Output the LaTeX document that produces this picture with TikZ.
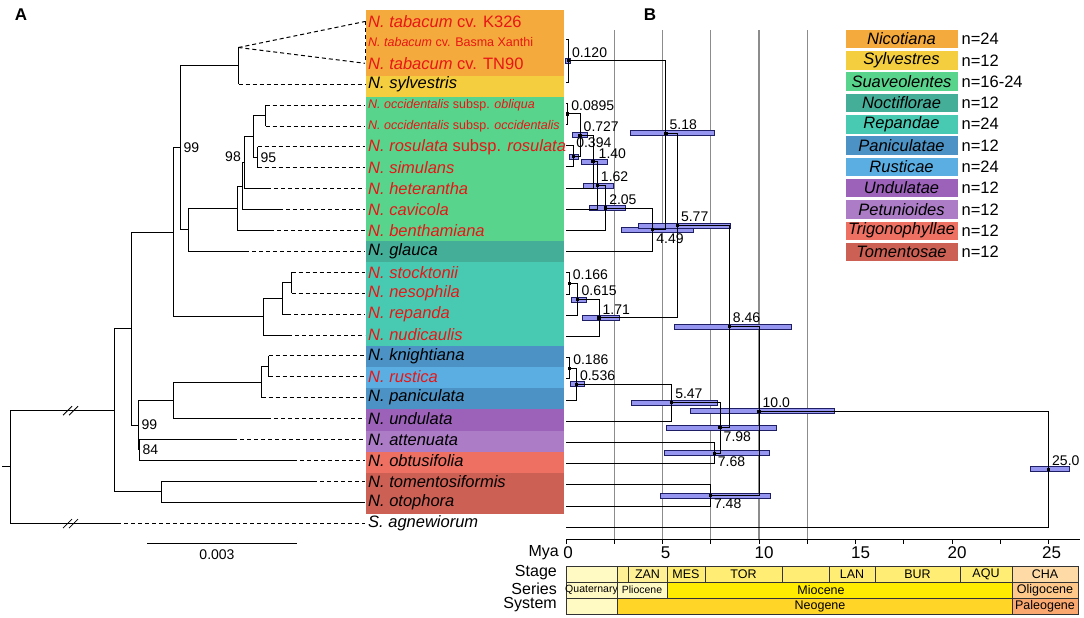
\documentclass[tikz,border=0pt]{standalone}
\usepackage{fontspec}
\setmainfont{Liberation Sans}
\usepackage{xcolor}
\usepackage{tikz}
\newcommand{\fsz}[1]{\fontsize{#1}{#1}\selectfont}
\definecolor{sred}{RGB}{232,22,22}
\definecolor{cNic}{RGB}{244,170,60}
\definecolor{cSyl}{RGB}{244,206,62}
\definecolor{cSua}{RGB}{88,212,140}
\definecolor{cNoc}{RGB}{68,174,152}
\definecolor{cRep}{RGB}{72,202,178}
\definecolor{cPan}{RGB}{76,146,196}
\definecolor{cRus}{RGB}{90,174,226}
\definecolor{cUnd}{RGB}{156,98,186}
\definecolor{cPet}{RGB}{172,124,198}
\definecolor{cTri}{RGB}{238,112,98}
\definecolor{cTom}{RGB}{204,96,84}
\definecolor{hpdfill}{RGB}{150,150,240}
\definecolor{hpdline}{RGB}{30,30,100}
\definecolor{gridgray}{RGB}{140,140,140}
\definecolor{tsPale}{RGB}{255,249,196}
\definecolor{tsPlio}{RGB}{255,240,150}
\definecolor{tsMioS}{RGB}{255,238,115}
\definecolor{tsMio}{RGB}{255,236,0}
\definecolor{tsNeo}{RGB}{255,214,40}
\definecolor{tsCha}{RGB}{253,218,166}
\definecolor{tsOli}{RGB}{253,200,138}
\definecolor{tsPal}{RGB}{250,168,112}

\begin{document}
\begin{tikzpicture}[x=1pt,y=-1pt]
    \def\by{21.5}
    \def\dy{20.9}
    \def\lx{365}
    \def\bx{566}
    \def\my{19.3}
    \def\bby{18.5}
    \def\bdy{21.2}
    \def\ly{39}
    \def\ldy{21.3}

    \tikzstyle{sp}=[anchor=west,inner xsep=3pt,inner ysep=0pt,font=\fsz{16.5}\itshape]
    \tikzstyle{spr}=[sp,text=sred]
    \tikzstyle{sps}=[spr,font=\fsz{12.5}\itshape]
    \tikzstyle{boot}=[inner sep=0pt,font=\fsz{14}]
    \tikzstyle{age}=[anchor=south west,inner sep=3.5pt,font=\fsz{14}]
    \tikzstyle{ageb}=[age,anchor=north west]
    \tikzstyle{hpd}=[fill=hpdfill,draw=hpdline,line width=0.6pt]
    \tikzstyle{vline}=[draw=gridgray,line width=1.4pt]
    \tikzstyle{br}=[draw=black,line width=1pt]
    \tikzstyle{dsh}=[draw=black,line width=1pt,dash pattern=on 4pt off 3pt]
    \tikzstyle{mkf}=[fill=black]
    \tikzstyle{leg}=[minimum width=113pt,minimum height=19.5pt,inner sep=0pt,draw=white,line width=0.8pt,font=\fsz{16.5}\itshape]
    \tikzstyle{cnt}=[anchor=west,inner xsep=3pt,font=\fsz{16.5}]
    \tikzstyle{mlab}=[inner sep=0pt,font=\fsz{17}]
    \tikzstyle{rlab}=[inner sep=0pt,anchor=east,font=\fsz{16}]
    \tikzstyle{gts}=[draw=black!80,line width=0.7pt]
    \tikzstyle{gtx}=[inner sep=0pt,font=\fsz{12.5}]
    \tikzstyle{gtxs}=[inner sep=0pt,font=\fsz{10.5}]

    \useasboundingbox (0,0) rectangle (1084,618);

    \node[font=\fsz{17}\bfseries] (pA) at (21,15) {A};
    \node[font=\fsz{17}\bfseries] (pB) at (650,15) {B};

    % section bands
    \fill[cNic] (366,10) rectangle (564,76);
    \fill[cSyl] (366,76) rectangle (564,97);
    \fill[cSua] (366,97) rectangle (564,241);
    \fill[cNoc] (366,241) rectangle (564,262);
    \fill[cRep] (366,262) rectangle (564,346);
    \fill[cPan] (366,346) rectangle (564,367);
    \fill[cRus] (366,367) rectangle (564,388);
    \fill[cPan] (366,388) rectangle (564,409);
    \fill[cUnd] (366,409) rectangle (564,431);
    \fill[cPet] (366,431) rectangle (564,452);
    \fill[cTri] (366,452) rectangle (564,473);
    \fill[cTom] (366,473) rectangle (564,514);

    % taxa
    \node[spr] (ntabK) at (\lx,\by+0*\dy) {N. tabacum \textup{cv. K326}};
    \node[sps] (ntabB) at (\lx,\by+1*\dy) {N. tabacum \textup{cv. Basma Xanthi}};
    \node[spr] (ntabT) at (\lx,\by+2*\dy) {N. tabacum \textup{cv. TN90}};
    \node[sp]  (nsyl)  at (\lx,\by+3*\dy) {N. sylvestris};
    \node[sps] (nobl)  at (\lx,\by+4*\dy) {N. occidentalis \textup{subsp.} obliqua};
    \node[sps] (nocc)  at (\lx,\by+5*\dy) {N. occidentalis \textup{subsp.} occidentalis};
    \node[spr] (nros)  at (\lx,\by+6*\dy) {N. rosulata \textup{subsp.} rosulata};
    \node[spr] (nsim)  at (\lx,\by+7*\dy) {N. simulans};
    \node[spr] (nhet)  at (\lx,\by+8*\dy) {N. heterantha};
    \node[spr] (ncav)  at (\lx,\by+9*\dy) {N. cavicola};
    \node[spr] (nben)  at (\lx,\by+10*\dy) {N. benthamiana};
    \node[sp]  (ngla)  at (\lx,\by+11*\dy) {N. glauca};
    \node[spr] (nsto)  at (\lx,\by+12*\dy) {N. stocktonii};
    \node[spr] (nnes)  at (\lx,\by+13*\dy) {N. nesophila};
    \node[spr] (nrep)  at (\lx,\by+14*\dy) {N. repanda};
    \node[spr] (nnud)  at (\lx,\by+15*\dy) {N. nudicaulis};
    \node[sp]  (nkni)  at (\lx,\by+16*\dy) {N. knightiana};
    \node[spr] (nrus)  at (\lx,\by+17*\dy) {N. rustica};
    \node[sp]  (npan)  at (\lx,\by+18*\dy) {N. paniculata};
    \node[sp]  (nund)  at (\lx,\by+19*\dy) {N. undulata};
    \node[sp]  (natt)  at (\lx,\by+20*\dy) {N. attenuata};
    \node[sp]  (nobt)  at (\lx,\by+21*\dy) {N. obtusifolia};
    \node[sp]  (ntom)  at (\lx,\by+22*\dy) {N. tomentosiformis};
    \node[sp]  (noto)  at (\lx,\by+23*\dy) {N. otophora};
    \node[sp]  (sagn)  at (\lx,\by+24*\dy) {S. agnewiorum};

    % ---- panel A: ML tree
    \coordinate (aTab)  at (238.5,47.5);
    \coordinate (aNS)   at (238.5,\by+2.12*\dy);
    \coordinate (aOO)   at (265.5,\by+4.5*\dy);
    \coordinate (aRS)   at (257.5,\by+6.5*\dy);
    \coordinate (aOR)   at (253.5,\by+5.5*\dy);
    \coordinate (aHet)  at (244.5,\by+6.75*\dy);
    \coordinate (aCav)  at (242.5,\by+7.875*\dy);
    \coordinate (aBen)  at (237.5,\by+8.94*\dy);
    \coordinate (aGla)  at (188.5,\by+9.97*\dy);
    \coordinate (a99)   at (180.5,\by+6.05*\dy);
    \coordinate (aSN)   at (291.5,\by+12.5*\dy);
    \coordinate (aRe2)  at (282.5,\by+13.25*\dy);
    \coordinate (aRep)  at (263.5,\by+14.125*\dy);
    \coordinate (aUp)   at (173.5,\by+10.09*\dy);
    \coordinate (aKR)   at (268.5,\by+16.5*\dy);
    \coordinate (aPan)  at (261.5,\by+17.25*\dy);
    \coordinate (aUnd)  at (173.5,\by+18.125*\dy);
    \coordinate (aAO)   at (139.5,\by+20.5*\dy);
    \coordinate (aLow)  at (138.5,\by+19.31*\dy);
    \coordinate (aMain) at (131.5,\by+14.7*\dy);
    \coordinate (aTom)  at (161.5,\by+22.5*\dy);
    \coordinate (aIng)  at (114.5,\by+18.6*\dy);
    \coordinate (aRoot) at (10.5,\by+21.3*\dy);
    \coordinate (aStem) at (2,\by+21.3*\dy);

    \coordinate (s3)  at (238.5,\by+3*\dy);
    \coordinate (s4)  at (265.5,\by+4*\dy);
    \coordinate (s5)  at (265.5,\by+5*\dy);
    \coordinate (s6)  at (257.5,\by+6*\dy);
    \coordinate (s7)  at (257.5,\by+7*\dy);
    \coordinate (s8)  at (267,\by+8*\dy);
    \coordinate (s9)  at (279,\by+9*\dy);
    \coordinate (s10) at (270,\by+10*\dy);
    \coordinate (s11) at (245,\by+11*\dy);
    \coordinate (s12) at (291.5,\by+12*\dy);
    \coordinate (s13) at (291.5,\by+13*\dy);
    \coordinate (s14) at (287,\by+14*\dy);
    \coordinate (s15) at (288,\by+15*\dy);
    \coordinate (s16) at (268.5,\by+16*\dy);
    \coordinate (s17) at (268.5,\by+17*\dy);
    \coordinate (s18) at (261.5,\by+18*\dy);
    \coordinate (s19) at (267,\by+19*\dy);
    \coordinate (s20) at (233,\by+20*\dy);
    \coordinate (s21) at (293,\by+21*\dy);
    \coordinate (s22) at (313,\by+22*\dy);
    \coordinate (s24) at (117,\by+24*\dy);

    \draw [br] (aNS) -- (aTab);
    \draw [br] (aNS) |- (s3);
    \draw [dsh] (aTab) -- (ntabK.west);
    \draw [dsh] (aTab) -- (ntabT.west);
    \draw [dsh] (ntabK.west) -- (ntabT.west);
    \draw [dsh] (s3) -- (nsyl.west);

    \draw [br] (a99) |- (aNS);
    \draw [br] (a99) |- (aGla);
    \draw [br] (aGla) |- (aBen);
    \draw [br] (aGla) |- (s11);
    \draw [br] (aBen) |- (aCav);
    \draw [br] (aBen) |- (s10);
    \draw [br] (aCav) |- (aHet);
    \draw [br] (aCav) |- (s9);
    \draw [br] (aHet) |- (aOR);
    \draw [br] (aHet) |- (s8);
    \draw [br] (aOR) |- (aOO);
    \draw [br] (aOR) |- (aRS);
    \draw [br] (aOO) |- (s4);
    \draw [br] (aOO) |- (s5);
    \draw [br] (aRS) |- (s6);
    \draw [br] (aRS) |- (s7);
    \draw [dsh] (s4) -- (nobl.west);
    \draw [dsh] (s5) -- (nocc.west);
    \draw [dsh] (s6) -- (nros.west);
    \draw [dsh] (s7) -- (nsim.west);
    \draw [dsh] (s8) -- (nhet.west);
    \draw [dsh] (s9) -- (ncav.west);
    \draw [dsh] (s10) -- (nben.west);
    \draw [dsh] (s11) -- (ngla.west);

    \draw [br] (aUp) |- (a99);
    \draw [br] (aUp) |- (aRep);
    \draw [br] (aRep) |- (aRe2);
    \draw [br] (aRep) |- (s15);
    \draw [br] (aRe2) |- (aSN);
    \draw [br] (aRe2) |- (s14);
    \draw [br] (aSN) |- (s12);
    \draw [br] (aSN) |- (s13);
    \draw [dsh] (s12) -- (nsto.west);
    \draw [dsh] (s13) -- (nnes.west);
    \draw [dsh] (s14) -- (nrep.west);
    \draw [dsh] (s15) -- (nnud.west);

    \draw [br] (aMain) |- (aUp);
    \draw [br] (aMain) |- (aLow);
    \draw [br] (aLow) |- (aUnd);
    \draw [br] (aLow) |- (aAO);
    \draw [br] (aUnd) |- (aPan);
    \draw [br] (aUnd) |- (s19);
    \draw [br] (aPan) |- (aKR);
    \draw [br] (aPan) |- (s18);
    \draw [br] (aKR) |- (s16);
    \draw [br] (aKR) |- (s17);
    \draw [br] (aAO) |- (s20);
    \draw [br] (aAO) |- (s21);
    \draw [dsh] (s16) -- (nkni.west);
    \draw [dsh] (s17) -- (nrus.west);
    \draw [dsh] (s18) -- (npan.west);
    \draw [dsh] (s19) -- (nund.west);
    \draw [dsh] (s20) -- (natt.west);
    \draw [dsh] (s21) -- (nobt.west);

    \draw [br] (aIng) |- (aMain);
    \draw [br] (aIng) |- (aTom);
    \draw [br] (aTom) |- (s22);
    \draw [br] (aTom) |- (noto.west);
    \draw [dsh] (s22) -- (ntom.west);
    \draw [br] (aRoot) |- (aIng);
    \draw [br] (aRoot) |- (s24);
    \draw [dsh] (s24) -- (sagn.west);
    \draw [br] (aStem) -- (aRoot);

    % breaks on the long branches
    \coordinate (brk1) at (70,\by+18.6*\dy);
    \coordinate (brk2) at (70,\by+24*\dy);
    \draw [br,line width=0.8pt] (brk1) ++(-7,5) -- ++(9,-9);
    \draw [br,line width=0.8pt] (brk1) ++(-1,5) -- ++(9,-9);
    \draw [br,line width=0.8pt] (brk2) ++(-7,5) -- ++(9,-9);
    \draw [br,line width=0.8pt] (brk2) ++(-1,5) -- ++(9,-9);

    \node[boot,anchor=west] (bs99a) at ([xshift=3pt]a99) {99};
    \node[boot,anchor=east] (bs98)  at (241,157) {98};
    \node[boot,anchor=west] (bs95)  at ([xshift=3pt]aRS) {95};
    \node[boot,anchor=west] (bs99b) at ([xshift=3pt]aLow) {99};
    \node[boot,anchor=west] (bs84)  at ([xshift=3pt]aAO) {84};

    \coordinate (sbl) at (147,543.5);
    \coordinate (sbr) at (297,543.5);
    \draw [br] (sbl) -- (sbr);
    \node[boot] (sbt) at (217,555) {0.003};

    % ---- panel B: dated tree
    \draw [vline] (\bx+2.5*\my,30) -- (\bx+2.5*\my,539);
    \draw [vline] (\bx+5*\my,30) -- (\bx+5*\my,539);
    \draw [vline] (\bx+7.5*\my,30) -- (\bx+7.5*\my,539);
    \draw [vline] (\bx+10*\my,30) -- (\bx+10*\my,539);
    \draw [vline] (\bx+12.5*\my,30) -- (\bx+12.5*\my,539);

    \coordinate (e1)  at (\bx,\bby+1*\bdy);
    \coordinate (e3)  at (\bx,\bby+3*\bdy);
    \coordinate (e4)  at (\bx,\bby+4*\bdy);
    \coordinate (e5)  at (\bx,\bby+5*\bdy);
    \coordinate (e6)  at (\bx,\bby+6*\bdy);
    \coordinate (e7)  at (\bx,\bby+7*\bdy);
    \coordinate (e8)  at (\bx,\bby+8*\bdy);
    \coordinate (e9)  at (\bx,\bby+9*\bdy);
    \coordinate (e10) at (\bx,\bby+10*\bdy);
    \coordinate (e11) at (\bx,\bby+11*\bdy);
    \coordinate (e12) at (\bx,\bby+12*\bdy);
    \coordinate (e13) at (\bx,\bby+13*\bdy);
    \coordinate (e14) at (\bx,\bby+14*\bdy);
    \coordinate (e15) at (\bx,\bby+15*\bdy);
    \coordinate (e16) at (\bx,\bby+16*\bdy);
    \coordinate (e17) at (\bx,\bby+17*\bdy);
    \coordinate (e18) at (\bx,\bby+18*\bdy);
    \coordinate (e19) at (\bx,\bby+19*\bdy);
    \coordinate (e20) at (\bx,\bby+20*\bdy);
    \coordinate (e21) at (\bx,\bby+21*\bdy);
    \coordinate (e22) at (\bx,\bby+22*\bdy);
    \coordinate (e23) at (\bx,\bby+23*\bdy);
    \coordinate (e24) at (\bx,\bby+24*\bdy);

    \coordinate (b120)  at (\bx+0.120*\my,\bby+2*\bdy);
    \coordinate (b0895) at (\bx+0.0895*\my,\bby+4.5*\bdy);
    \coordinate (b394)  at (\bx+0.394*\my,\bby+6.5*\bdy);
    \coordinate (b727)  at (\bx+0.727*\my,\bby+5.5*\bdy);
    \coordinate (b140)  at (\bx+1.40*\my,\bby+6.75*\bdy);
    \coordinate (b162)  at (\bx+1.62*\my,\bby+7.875*\bdy);
    \coordinate (b205)  at (\bx+2.05*\my,\bby+8.94*\bdy);
    \coordinate (b449)  at (\bx+4.49*\my,\bby+9.97*\bdy);
    \coordinate (b518)  at (\bx+5.18*\my,\bby+5.41*\bdy);
    \coordinate (b577)  at (\bx+5.77*\my,\bby+9.77*\bdy);
    \coordinate (b166)  at (\bx+0.166*\my,\bby+12.5*\bdy);
    \coordinate (b615)  at (\bx+0.615*\my,\bby+13.25*\bdy);
    \coordinate (b171)  at (\bx+1.71*\my,\bby+14.125*\bdy);
    \coordinate (b186)  at (\bx+0.186*\my,\bby+16.5*\bdy);
    \coordinate (b536)  at (\bx+0.536*\my,\bby+17.25*\bdy);
    \coordinate (b547)  at (\bx+5.47*\my,\bby+18.125*\bdy);
    \coordinate (b768)  at (\bx+7.68*\my,\bby+20.5*\bdy);
    \coordinate (b798)  at (\bx+7.98*\my,\bby+19.31*\bdy);
    \coordinate (b846)  at (\bx+8.46*\my,\bby+14.54*\bdy);
    \coordinate (b748)  at (\bx+7.48*\my,\bby+22.5*\bdy);
    \coordinate (b100)  at (\bx+10.0*\my,\bby+18.52*\bdy);
    \coordinate (b250)  at (\bx+25.0*\my,\bby+21.26*\bdy);

    % 95% HPD bars
    \draw [hpd] (b120) ++(-3,-2.5) rectangle ++(5,5);
    \draw [hpd] (b727) ++(-8,-2.5) rectangle ++(15,5);
    \draw [hpd] (b394) ++(-4.6,-2.5) rectangle ++(9,5);
    \draw [hpd] (b140) ++(-12,-2.5) rectangle ++(26,5);
    \draw [hpd] (b162) ++(-14.3,-2.5) rectangle ++(30,5);
    \draw [hpd] (b205) ++(-16.6,-2.5) rectangle ++(36,5);
    \draw [hpd] (b449) ++(-31.7,-2.5) rectangle ++(72,5);
    \draw [hpd] (b518) ++(-36,-2.5) rectangle ++(84,5);
    \draw [hpd] (b577) ++(-39.4,-2.5) rectangle ++(92,5);
    \draw [hpd] (b615) ++(-6.9,-2.5) rectangle ++(15,5);
    \draw [hpd] (b171) ++(-17,-2.5) rectangle ++(37,5);
    \draw [hpd] (b846) ++(-55.3,-2.5) rectangle ++(117,5);
    \draw [hpd] (b536) ++(-6.3,-2.5) rectangle ++(14,5);
    \draw [hpd] (b547) ++(-40.6,-2.5) rectangle ++(86,5);
    \draw [hpd] (b100) ++(-69,-2.5) rectangle ++(144,5);
    \draw [hpd] (b798) ++(-54,-2.5) rectangle ++(110,5);
    \draw [hpd] (b768) ++(-50.2,-2.5) rectangle ++(105,5);
    \draw [hpd] (b748) ++(-50.4,-2.5) rectangle ++(110,5);
    \draw [hpd] (b250) ++(-18.5,-2.5) rectangle ++(39,5);

    \draw [br] (b120) |- (e1);
    \draw [br] (b120) |- (e3);
    \draw [br] (b0895) |- (e4);
    \draw [br] (b0895) |- (e5);
    \draw [br] (b394) |- (e6);
    \draw [br] (b394) |- (e7);
    \draw [br] (b727) |- (b0895);
    \draw [br] (b727) |- (b394);
    \draw [br] (b140) |- (b727);
    \draw [br] (b140) |- (e8);
    \draw [br] (b162) |- (b140);
    \draw [br] (b162) |- (e9);
    \draw [br] (b205) |- (b162);
    \draw [br] (b205) |- (e10);
    \draw [br] (b449) |- (b205);
    \draw [br] (b449) |- (e11);
    \draw [br] (b518) |- (b120);
    \draw [br] (b518) |- (b449);
    \draw [br] (b577) |- (b518);
    \draw [br] (b577) |- (b171);
    \draw [br] (b166) |- (e12);
    \draw [br] (b166) |- (e13);
    \draw [br] (b615) |- (b166);
    \draw [br] (b615) |- (e14);
    \draw [br] (b171) |- (b615);
    \draw [br] (b171) |- (e15);
    \draw [br] (b846) |- (b577);
    \draw [br] (b846) |- (b798);
    \draw [br] (b186) |- (e16);
    \draw [br] (b186) |- (e17);
    \draw [br] (b536) |- (b186);
    \draw [br] (b536) |- (e18);
    \draw [br] (b547) |- (b536);
    \draw [br] (b547) |- (e19);
    \draw [br] (b768) |- (e20);
    \draw [br] (b768) |- (e21);
    \draw [br] (b798) |- (b547);
    \draw [br] (b798) |- (b768);
    \draw [br] (b748) |- (e22);
    \draw [br] (b748) |- (e23);
    \draw [br] (b100) |- (b846);
    \draw [br] (b100) |- (b748);
    \draw [br] (b250) |- (b100);
    \draw [br] (b250) |- (e24);

    % node markers
    \fill [mkf] (b120) +(-1.6,-1.6) rectangle +(1.6,1.6);
    \fill [mkf] (b0895) +(-1.6,-1.6) rectangle +(1.6,1.6);
    \fill [mkf] (b394) +(-1.6,-1.6) rectangle +(1.6,1.6);
    \fill [mkf] (b727) +(-1.6,-1.6) rectangle +(1.6,1.6);
    \fill [mkf] (b140) +(-1.6,-1.6) rectangle +(1.6,1.6);
    \fill [mkf] (b162) +(-1.6,-1.6) rectangle +(1.6,1.6);
    \fill [mkf] (b205) +(-1.6,-1.6) rectangle +(1.6,1.6);
    \fill [mkf] (b449) +(-1.6,-1.6) rectangle +(1.6,1.6);
    \fill [mkf] (b518) +(-1.6,-1.6) rectangle +(1.6,1.6);
    \fill [mkf] (b577) +(-1.6,-1.6) rectangle +(1.6,1.6);
    \fill [mkf] (b166) +(-1.6,-1.6) rectangle +(1.6,1.6);
    \fill [mkf] (b615) +(-1.6,-1.6) rectangle +(1.6,1.6);
    \fill [mkf] (b171) +(-1.6,-1.6) rectangle +(1.6,1.6);
    \fill [mkf] (b186) +(-1.6,-1.6) rectangle +(1.6,1.6);
    \fill [mkf] (b536) +(-1.6,-1.6) rectangle +(1.6,1.6);
    \fill [mkf] (b547) +(-1.6,-1.6) rectangle +(1.6,1.6);
    \fill [mkf] (b768) +(-1.6,-1.6) rectangle +(1.6,1.6);
    \fill [mkf] (b798) +(-1.6,-1.6) rectangle +(1.6,1.6);
    \fill [mkf] (b846) +(-1.6,-1.6) rectangle +(1.6,1.6);
    \fill [mkf] (b748) +(-1.6,-1.6) rectangle +(1.6,1.6);
    \fill [mkf] (b100) +(-1.6,-1.6) rectangle +(1.6,1.6);
    \fill [mkf] (b250) +(-1.6,-1.6) rectangle +(1.6,1.6);

    % ages
    \node[age]  (l120)  at (b120) {0.120};
    \node[age]  (l0895) at (b0895) {0.0895};
    \node[age]  (l727)  at (b727) {0.727};
    \node[age]  (l394)  at ([xshift=-1pt,yshift=5pt]b394) {0.394};
    \node[age]  (l140)  at ([xshift=2pt,yshift=-1pt]b140) {1.40};
    \node[age]  (l162)  at (b162) {1.62};
    \node[age]  (l205)  at (b205) {2.05};
    \node[ageb] (l449)  at (b449) {4.49};
    \node[age]  (l518)  at (b518) {5.18};
    \node[age]  (l577)  at (b577) {5.77};
    \node[age]  (l166)  at (b166) {0.166};
    \node[age]  (l615)  at (b615) {0.615};
    \node[age]  (l171)  at (b171) {1.71};
    \node[age]  (l846)  at (b846) {8.46};
    \node[age]  (l186)  at (b186) {0.186};
    \node[age]  (l536)  at (b536) {0.536};
    \node[age]  (l547)  at (b547) {5.47};
    \node[age]  (l100)  at (b100) {10.0};
    \node[ageb] (l798)  at (b798) {7.98};
    \node[ageb] (l768)  at (b768) {7.68};
    \node[ageb] (l748)  at (b748) {7.48};
    \node[age]  (l250)  at (b250) {25.0};

    % time axis
    \draw [br,line width=0.9pt] (\bx,539.5) -- (1080,539.5);
    \draw [br,line width=0.9pt] (\bx,539.5) -- (\bx,544);
    \draw [br,line width=0.9pt] (\bx+2.5*\my,539.5) -- (\bx+2.5*\my,544);
    \draw [br,line width=0.9pt] (\bx+5*\my,539.5) -- (\bx+5*\my,544);
    \draw [br,line width=0.9pt] (\bx+7.5*\my,539.5) -- (\bx+7.5*\my,544);
    \draw [br,line width=0.9pt] (\bx+10*\my,539.5) -- (\bx+10*\my,544);
    \draw [br,line width=0.9pt] (\bx+12.5*\my,539.5) -- (\bx+12.5*\my,544);
    \draw [br,line width=0.9pt] (\bx+15*\my,539.5) -- (\bx+15*\my,544);
    \draw [br,line width=0.9pt] (\bx+17.5*\my,539.5) -- (\bx+17.5*\my,544);
    \draw [br,line width=0.9pt] (\bx+20*\my,539.5) -- (\bx+20*\my,544);
    \draw [br,line width=0.9pt] (\bx+22.5*\my,539.5) -- (\bx+22.5*\my,544);
    \draw [br,line width=0.9pt] (\bx+25*\my,539.5) -- (\bx+25*\my,544);
    \node[mlab] (m0)  at (\bx+2,553) {0};
    \node[mlab] (m5)  at (\bx+5*\my+3,553) {5};
    \node[mlab] (m10) at (\bx+10*\my+5,553) {10};
    \node[mlab] (m15) at (\bx+15*\my+5,553) {15};
    \node[mlab] (m20) at (\bx+20*\my+5,553) {20};
    \node[mlab] (m25) at (\bx+25*\my+3,553) {25};
    \node[rlab] (mya) at (559,553) {Mya};
    \node[rlab] (rStage)  at (557,573) {Stage};
    \node[rlab] (rSeries) at (557,589) {Series};
    \node[rlab] (rSystem) at (557,605) {System};

    % geological time scale
    \draw [gts,fill=tsPale] (566,566) rectangle (617,582);
    \draw [gts,fill=tsPlio] (617,566) rectangle (628,582);
    \draw [gts,fill=tsPlio] (628,566) rectangle (667,582) node[midway,gtx] (sZAN) {ZAN};
    \draw [gts,fill=tsMioS] (667,566) rectangle (705,582) node[midway,gtx] (sMES) {MES};
    \draw [gts,fill=tsMioS] (705,566) rectangle (782,582) node[midway,gtx] (sTOR) {TOR};
    \draw [gts,fill=tsMioS] (782,566) rectangle (829,582);
    \draw [gts,fill=tsMioS] (829,566) rectangle (875,582) node[midway,gtx] (sLAN) {LAN};
    \draw [gts,fill=tsMioS] (875,566) rectangle (960,582) node[midway,gtx] (sBUR) {BUR};
    \draw [gts,fill=tsMioS] (960,566) rectangle (1012,582) node[midway,gtx] (sAQU) {AQU};
    \draw [gts,fill=tsCha] (1012,566) rectangle (1078,582) node[midway,gtx] (sCHA) {CHA};

    \draw [gts,fill=tsPale] (566,582) rectangle (617,598) node[midway,gtxs] (eQua) {Quaternary};
    \draw [gts,fill=tsPale] (617,582) rectangle (667,598) node[midway,gtxs] (ePli) {Pliocene};
    \draw [gts,fill=tsMio] (667,582) rectangle (1012,598);
    \node[gtx] (eMio) at (821,590) {Miocene};
    \draw [gts,fill=tsOli] (1012,582) rectangle (1078,598) node[midway,gtx] (eOli) {Oligocene};

    \draw [gts,fill=tsPale] (566,598) rectangle (617,614);
    \draw [gts,fill=tsNeo] (617,598) rectangle (1012,614);
    \node[gtx] (yNeo) at (820,606) {Neogene};
    \draw [gts,fill=tsPal] (1012,598) rectangle (1078,614) node[midway,gtx] (yPal) {Paleogene};

    % legend
    \node[leg,fill=cNic] (gNic) at (901.5,\ly+0*\ldy) {Nicotiana};
    \node[leg,fill=cSyl] (gSyl) at (901.5,\ly+1*\ldy) {Sylvestres};
    \node[leg,fill=cSua] (gSua) at (901.5,\ly+2*\ldy) {Suaveolentes};
    \node[leg,fill=cNoc] (gNoc) at (901.5,\ly+3*\ldy) {Noctiflorae};
    \node[leg,fill=cRep] (gRep) at (901.5,\ly+4*\ldy) {Repandae};
    \node[leg,fill=cPan] (gPan) at (901.5,\ly+5*\ldy) {Paniculatae};
    \node[leg,fill=cRus] (gRus) at (901.5,\ly+6*\ldy) {Rusticae};
    \node[leg,fill=cUnd] (gUnd) at (901.5,\ly+7*\ldy) {Undulatae};
    \node[leg,fill=cPet] (gPet) at (901.5,\ly+8*\ldy) {Petunioides};
    \node[leg,fill=cTri] (gTri) at (901.5,\ly+9*\ldy) {Trigonophyllae};
    \node[leg,fill=cTom] (gTom) at (901.5,\ly+10*\ldy) {Tomentosae};
    \node[cnt] (kNic) at (gNic.east) {n=24};
    \node[cnt] (kSyl) at (gSyl.east) {n=12};
    \node[cnt] (kSua) at (gSua.east) {n=16-24};
    \node[cnt] (kNoc) at (gNoc.east) {n=12};
    \node[cnt] (kRep) at (gRep.east) {n=24};
    \node[cnt] (kPan) at (gPan.east) {n=12};
    \node[cnt] (kRus) at (gRus.east) {n=24};
    \node[cnt] (kUnd) at (gUnd.east) {n=12};
    \node[cnt] (kPet) at (gPet.east) {n=12};
    \node[cnt] (kTri) at (gTri.east) {n=12};
    \node[cnt] (kTom) at (gTom.east) {n=12};
\end{tikzpicture}
\end{document}
